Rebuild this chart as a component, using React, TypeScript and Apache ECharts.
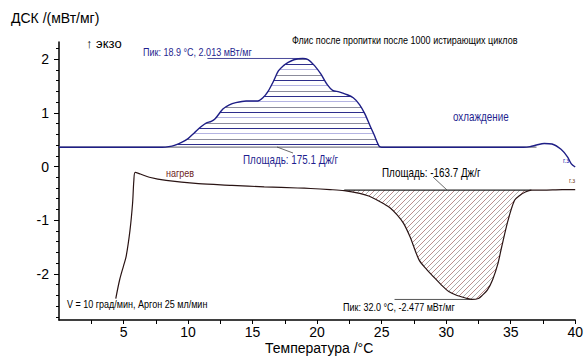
import React, { useEffect, useRef } from "react";
import * as echarts from "echarts";

// ---- data ----
const coolT = [0, 2, 4, 6, 8, 8.5, 9, 9.5, 10, 10.5, 11, 11.4, 11.8, 12.1, 12.7, 13.2, 13.7, 14.5, 15.4, 15.8, 16.2, 16.6, 17.0, 17.4, 17.7, 18.2, 18.9, 19.3, 19.8, 20.3, 20.8, 21.2, 21.7, 22.2, 22.8, 23.3, 23.7, 24.1, 24.4, 24.8, 25, 28, 32, 36, 36.5, 37, 37.6, 38.2, 38.9, 39.4, 39.7, 40];
const coolV = [0.36, 0.36, 0.36, 0.36, 0.36, 0.37, 0.4, 0.45, 0.52, 0.63, 0.74, 0.81, 0.84, 0.89, 1.07, 1.15, 1.19, 1.22, 1.22, 1.28, 1.4, 1.58, 1.78, 1.88, 1.93, 1.99, 2.013, 1.99, 1.88, 1.72, 1.52, 1.42, 1.39, 1.35, 1.28, 1.15, 0.98, 0.76, 0.6, 0.38, 0.36, 0.36, 0.36, 0.36, 0.37, 0.4, 0.43, 0.42, 0.32, 0.18, 0.05, -0.01];
const heatT = [4.4, 4.7, 5.0, 5.2, 5.5, 5.7, 5.8, 5.9, 6.3, 7.0, 8.3, 10.8, 13.4, 15.9, 18.5, 19.5, 21, 22.1, 23.3, 24.0, 24.6, 25.2, 25.6, 26.2, 26.7, 27.2, 27.9, 28.5, 29.0, 29.6, 30.2, 30.8, 31.5, 32.0, 32.5, 32.8, 33.2, 33.6, 34.0, 34.3, 34.8, 35.3, 35.7, 36.1, 36.6, 37.5, 39, 40];
const heatV = [-2.46, -2.11, -1.85, -1.68, -1.19, -0.69, -0.26, -0.11, -0.14, -0.2, -0.26, -0.32, -0.35, -0.38, -0.4, -0.41, -0.43, -0.45, -0.5, -0.55, -0.62, -0.7, -0.76, -0.9, -1.06, -1.31, -1.74, -1.92, -2.05, -2.2, -2.33, -2.4, -2.45, -2.477, -2.46, -2.4, -2.3, -2.11, -1.82, -1.5, -1.0, -0.63, -0.54, -0.48, -0.44, -0.44, -0.43, -0.43];

const coolBase = 0.36;
const heatBase = -0.44;
const coolPeakRange = [8.5, 24.8];
const heatPeakRange = [22.1, 36.6];
const coolBaseRange = [0, 37];
const coolPeak = [18.9, 2.013];
const heatPeak = [32.0, -2.477];
const coolPeakLabelStart = 11.5;
const heatPeakLabelStart = 26.0;

const xLabels = [5, 10, 15, 20, 25, 30, 35, 40];
const xTicks = [2.5, 5, 7.5, 10, 12.5, 15, 17.5, 20, 22.5, 25, 27.5, 30, 32.5, 35, 37.5, 40];
const yLabels = [-2, -1, 0, 1, 2];
const yMinorTicks = [-2.8, -2.6, -2.4, -2.2, -1.8, -1.6, -1.4, -1.2, -0.8, -0.6, -0.4, -0.2, 0.2, 0.4, 0.6, 0.8, 1.2, 1.4, 1.6, 1.8, 2.2];

const texts = {
  yTitle: "ДСК /(мВт/мг)",
  xTitle: "Температура /°C",
  exo: "↑ экзо",
  title: "Флис после пропитки после 1000 истирающих циклов",
  coolPeak: "Пик: 18.9 °C, 2.013 мВт/мг",
  coolArea: "Площадь: 175.1 Дж/г",
  cooling: "охлаждение",
  heating: "нагрев",
  heatArea: "Площадь: -163.7 Дж/г",
  heatPeak: "Пик: 32.0 °C, -2.477 мВт/мг",
  cond: "V = 10 град/мин, Аргон 25 мл/мин",
  endMark: "г.з",
};

const pairs = (t: number[], v: number[], r?: number[]) =>
  t.map((x, i) => [x, v[i]]).filter((p) => !r || (p[0] >= r[0] && p[0] <= r[1]));

function hPattern() {
  const c = document.createElement("canvas");
  c.width = 8;
  c.height = 16;
  const ctx = c.getContext("2d")!;
  ctx.fillStyle = "#2e2e8c";
  ctx.fillRect(0, 0, 8, 1);
  ctx.fillStyle = "#b4b4e2";
  ctx.fillRect(0, 5, 8, 1);
  ctx.fillStyle = "#8c8c9c";
  ctx.fillRect(0, 11, 8, 1);
  return c;
}

function dPattern() {
  const c = document.createElement("canvas");
  c.width = 10;
  c.height = 10;
  const ctx = c.getContext("2d")!;
  for (let x = 0; x < 10; x++) {
    for (let y = 0; y < 10; y++) {
      const s = x + y;
      if (s === 4 || s === 14) {
        ctx.fillStyle = "#bc8c8c";
        ctx.fillRect(x, y, 1, 1);
      } else if (s === 9) {
        ctx.fillStyle = "#acacac";
        ctx.fillRect(x, y, 1, 1);
      }
    }
  }
  return c;
}

const FONT = "'Liberation Sans', Arial, sans-serif";

export default function App() {
  const ref = useRef<HTMLDivElement>(null);
  useEffect(() => {
    if (!ref.current) return;
    const chart = echarts.init(ref.current, null, { renderer: "svg" });
    const narrow = (text: string, x: number, y: number, size: number, color: string, sx = 0.82) => ({
      type: "text",
      x,
      y,
      scaleX: sx,
      style: { text, fill: color, font: `${size}px ${FONT}`, textVerticalAlign: "middle" },
      z: 10,
    });
    const option: any = {
      animation: false,
      backgroundColor: "#ffffff",
      grid: { left: 59, right: 7, top: 42, bottom: 36 },
      xAxis: {
        type: "value",
        min: 0,
        max: 40,
        axisLine: { onZero: false, lineStyle: { color: "#000", width: 1.5 } },
        axisTick: { show: true, customValues: xTicks, length: 4, lineStyle: { color: "#000" } },
        axisLabel: { customValues: xLabels, color: "#000", fontSize: 14, fontFamily: FONT, margin: 5 },
        splitLine: { show: false },
      },
      yAxis: [
        {
          type: "value",
          min: -2.86,
          max: 2.32,
          axisLine: { show: true, onZero: false, lineStyle: { color: "#000", width: 1.5 } },
          axisTick: { show: true, customValues: yLabels, length: 5, lineStyle: { color: "#000" } },
          axisLabel: { customValues: yLabels, color: "#000", fontSize: 14, fontFamily: FONT, margin: 10 },
          splitLine: { show: false },
        },
        {
          type: "value",
          position: "left",
          min: -2.86,
          max: 2.32,
          axisLine: { show: false, onZero: false },
          axisTick: { show: true, customValues: yMinorTicks, length: 3, lineStyle: { color: "#000" } },
          axisLabel: { show: false },
          splitLine: { show: false },
        },
      ],
      series: [
        {
          type: "line",
          data: pairs(coolT, coolV, coolPeakRange),
          symbol: "none",
          lineStyle: { width: 0 },
          areaStyle: { origin: coolBase, color: { image: hPattern(), repeat: "repeat" }, opacity: 1 },
          z: 1,
        },
        {
          type: "line",
          data: pairs(heatT, heatV, heatPeakRange),
          symbol: "none",
          lineStyle: { width: 0 },
          areaStyle: { origin: heatBase, color: { image: dPattern(), repeat: "repeat" }, opacity: 1 },
          z: 1,
        },
        {
          type: "line",
          data: [[coolBaseRange[0], coolBase], [coolBaseRange[1], coolBase]],
          symbol: "none",
          lineStyle: { color: "#7a7a86", width: 1.2 },
          z: 2,
        },
        {
          type: "line",
          data: [[heatPeakRange[0], heatBase], [heatPeakRange[1], heatBase]],
          symbol: "none",
          lineStyle: { color: "#222", width: 1.1 },
          z: 2,
        },
        {
          type: "line",
          data: [[coolPeakLabelStart, coolPeak[1]], [coolPeak[0], coolPeak[1]]],
          symbol: "none",
          lineStyle: { color: "#4a4a9a", width: 1 },
          z: 2,
        },
        {
          type: "line",
          data: [[heatPeakLabelStart, heatPeak[1]], [heatPeak[0], heatPeak[1]]],
          symbol: "none",
          lineStyle: { color: "#555", width: 1 },
          z: 2,
        },
        {
          type: "line",
          data: pairs(coolT, coolV),
          symbol: "none",
          smooth: 0.3,
          lineStyle: { color: "#1e1e86", width: 1.4 },
          z: 3,
        },
        {
          type: "line",
          data: pairs(heatT, heatV),
          symbol: "none",
          smooth: 0.3,
          lineStyle: { color: "#2a1414", width: 1.2 },
          z: 3,
        },
      ],
      graphic: [
        { type: "text", x: 11, y: 18, style: { text: texts.yTitle, fill: "#000", font: `14px ${FONT}`, textVerticalAlign: "middle" } },
        { type: "text", x: 265, y: 348, style: { text: texts.xTitle, fill: "#000", font: `14px ${FONT}`, textVerticalAlign: "middle" } },
        { type: "text", x: 86, y: 43, style: { text: texts.exo, fill: "#000", font: `13px ${FONT}`, textVerticalAlign: "middle" } },
        narrow(texts.title, 292, 40, 11, "#000"),
        narrow(texts.coolPeak, 143, 52, 11, "#1f1f8f"),
        narrow(texts.coolArea, 243, 160, 12, "#1f1f8f"),
        narrow(texts.cooling, 453, 117, 12, "#1f1f8f"),
        narrow(texts.heating, 166, 173, 11, "#6e1c1c"),
        narrow(texts.heatArea, 382, 173, 12, "#000"),
        narrow(texts.heatPeak, 343, 307, 11, "#000"),
        narrow(texts.cond, 67, 304, 11, "#000"),
        narrow(texts.endMark, 563, 160, 7, "#2a2ab0", 0.9),
        narrow(texts.endMark, 569, 180, 7, "#7a4a2a", 0.9),
        { type: "line", shape: { x1: 277, y1: 147, x2: 293, y2: 153 }, style: { stroke: "#444", lineWidth: 0.8 }, z: 10 },
        { type: "line", shape: { x1: 433, y1: 177, x2: 447, y2: 190 }, style: { stroke: "#444", lineWidth: 0.8 }, z: 10 },
      ],
    };
    chart.setOption(option);
    return () => chart.dispose();
  }, []);
  return <div ref={ref} style={{ width: 586, height: 356, position: "absolute", left: 0, top: 0 }} />;
}
